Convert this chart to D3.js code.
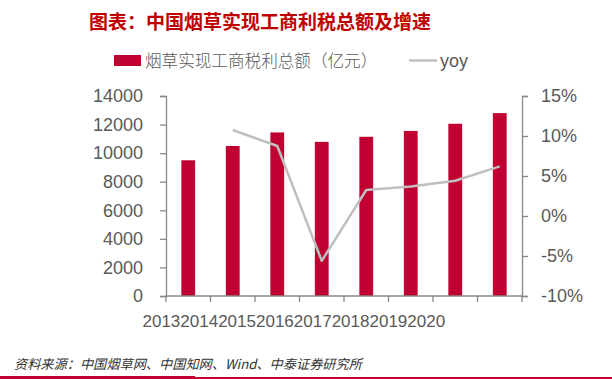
<!DOCTYPE html>
<html><head><meta charset="utf-8">
<script src="https://cdn.jsdelivr.net/npm/d3@7"></script>
<style>
body{margin:0;background:#fff;}
svg{display:block;}
</style></head>
<body>
<svg id="c" width="612" height="379"></svg>
<script>
const years = ["2013","2014","2015","2016","2017","2018","2019","2020"];
const taxProfit = [9500, 10500, 11450, 10790, 11145, 11556, 12056, 12803];
const yoy = [null, 10.75, 8.75, -5.6, 3.25, 3.7, 4.4, 6.2];
const leftTicks = [0,2000,4000,6000,8000,10000,12000,14000];
const rightTicks = [-10,-5,0,5,10,15];

const svg = d3.select("#c");
const W = 612, H = 379;
const plot = {l:166, r:522, t:96, b:296};
const txt = "#595959", axc = "#898989";
const barColor = "#C00031", lineColor = "#BFBFBF";

const x = d3.scaleBand().domain(years).range([plot.l, plot.r]).paddingInner(0.69).paddingOuter(0.345);
const xb = d3.scaleBand().domain(years).range([plot.l, plot.r]);
const yL = d3.scaleLinear().domain([0,14000]).range([plot.b, plot.t]);
const yR = d3.scaleLinear().domain([-10,15]).range([plot.b, plot.t]);

// title
svg.append("text").attr("x", 260).attr("y", 29).attr("text-anchor","middle")
  .attr("font-family","'Noto Sans CJK SC'").attr("font-weight",700).attr("font-size",19)
  .attr("fill","#C00000").text("图表：中国烟草实现工商利税总额及增速");

// legend
svg.append("rect").attr("x",114).attr("y",55).attr("width",27).attr("height",11).attr("fill",barColor);
svg.append("text").attr("x",145).attr("y",66.5).attr("font-family","'Noto Sans CJK SC'").attr("font-weight",300)
  .attr("font-size",16.6).attr("fill",txt).text("烟草实现工商税利总额（亿元）");
svg.append("line").attr("x1",409).attr("x2",437).attr("y1",60.5).attr("y2",60.5).attr("stroke",lineColor).attr("stroke-width",2.5);
svg.append("text").attr("x",440).attr("y",66.5).attr("font-family","Arial, 'Liberation Sans'")
  .attr("font-size",18).attr("fill",txt).text("yoy");

// bars
svg.append("g").selectAll("rect").data(years).join("rect")
  .attr("x", d => x(d)).attr("width", x.bandwidth())
  .attr("y", (d,i) => yL(taxProfit[i])).attr("height", (d,i) => yL(0) - yL(taxProfit[i]))
  .attr("fill", barColor);

// left axis
const gl = svg.append("g").attr("transform",`translate(${plot.l},0)`)
  .call(d3.axisLeft(yL).tickValues(leftTicks).tickSize(6).tickPadding(17).tickFormat(d3.format("d")));
gl.select(".domain").attr("stroke",axc).attr("stroke-width",1.3);
gl.selectAll(".tick line").attr("stroke",axc).attr("stroke-width",1.3);
gl.selectAll("text").attr("font-family","Arial, 'Liberation Sans'").attr("font-size",18).attr("fill",txt);

// right axis
const gr = svg.append("g").attr("transform",`translate(${plot.r},0)`)
  .call(d3.axisRight(yR).tickValues(rightTicks).tickSize(6).tickPadding(13).tickFormat(d => d + "%"));
gr.select(".domain").attr("stroke",axc).attr("stroke-width",1.3);
gr.selectAll(".tick line").attr("stroke",axc).attr("stroke-width",1.3);
gr.selectAll("text").attr("font-family","Arial, 'Liberation Sans'").attr("font-size",18).attr("fill",txt);

// x axis baseline + tick marks at band boundaries
const xg = svg.append("g");
xg.append("line").attr("x1",plot.l).attr("x2",plot.r).attr("y1",plot.b).attr("y2",plot.b).attr("stroke",axc).attr("stroke-width",1.3);
const bounds = years.map(d => xb(d)).concat([xb(years[years.length-1]) + xb.bandwidth()]);
xg.selectAll("line.t").data(bounds).join("line").attr("class","t")
  .attr("x1",d=>d).attr("x2",d=>d).attr("y1",plot.b).attr("y2",plot.b+6).attr("stroke",axc).attr("stroke-width",1.3);

// x labels (squeezed together as in the reference)
const xl = svg.append("text").attr("x",142.5).attr("y",327).attr("font-family","Arial, 'Liberation Sans'")
  .attr("font-size",17).attr("fill",txt);
xl.selectAll("tspan").data(years).join("tspan").text(d => d);

// yoy line
const line = d3.line().defined(d => d[1] != null)
  .x(d => xb(d[0]) + xb.bandwidth()/2).y(d => yR(d[1]));
svg.append("path").datum(years.map((d,i)=>[d, yoy[i]]))
  .attr("d", line).attr("fill","none").attr("stroke",lineColor).attr("stroke-width",2.5).attr("stroke-linejoin","round");

// source
svg.append("text").attr("x",14).attr("y",369).attr("font-family","'Noto Sans CJK SC'").attr("font-style","italic")
  .attr("font-size",13.2).attr("fill","#333").text("资料来源：中国烟草网、中国知网、Wind、中泰证券研究所");

// bottom rule
svg.append("rect").attr("x",0).attr("y",376).attr("width",195).attr("height",3).attr("fill",barColor);
svg.append("rect").attr("x",195).attr("y",377).attr("width",W-195).attr("height",2).attr("fill",barColor);
</script>
</body></html>
